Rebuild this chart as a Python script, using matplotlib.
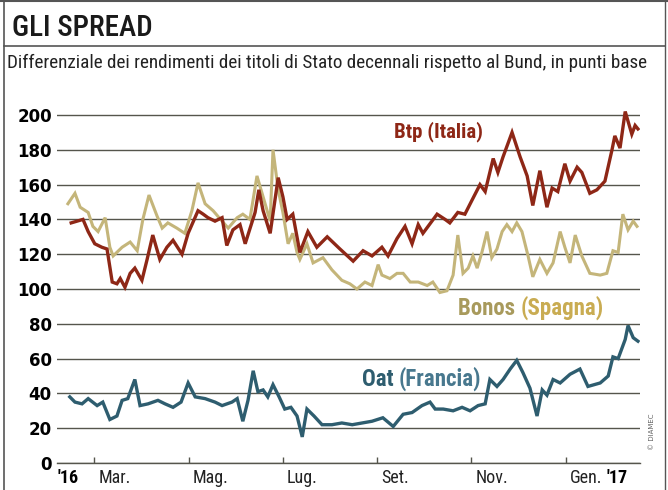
import matplotlib
matplotlib.use("Agg")
import matplotlib.pyplot as plt
from matplotlib import font_manager as fm
from matplotlib.lines import Line2D

# Spread vs Bund (basis points); x in months from start of 2016
btp_x = [1.51, 1.76, 1.87, 2.01, 2.16, 2.27, 2.38, 2.48, 2.55, 2.65,
         2.76, 2.86, 3.01, 3.12, 3.24, 3.39, 3.54, 3.67, 3.86, 3.99,
         4.20, 4.31, 4.41, 4.56, 4.71, 4.81, 4.94, 5.09, 5.20, 5.41,
         5.49, 5.58, 5.73, 5.90, 6.00, 6.09, 6.21, 6.36, 6.53, 6.72,
         6.94, 7.21, 7.49, 7.70, 7.89, 8.10, 8.23, 8.42, 8.59, 8.74,
         8.87, 8.97, 9.27, 9.44, 9.54, 9.71, 9.86, 10.01, 10.18, 10.29,
         10.46, 10.56, 10.67, 10.86, 11.03, 11.18, 11.30, 11.45, 11.60, 11.71,
         11.83, 11.98, 12.09, 12.24, 12.34, 12.51, 12.66, 12.83, 12.98, 13.04,
         13.15, 13.26, 13.40, 13.47, 13.53]
btp = [138, 140, 133, 126, 124, 123, 104, 103, 106, 101,
       109, 112, 105, 117, 131, 117, 124, 128, 120, 132,
       145, 143, 141, 139, 141, 125, 134, 137, 126, 144,
       157, 145, 132, 164, 153, 140, 143, 121, 133, 124,
       130, 123, 116, 122, 119, 124, 119, 129, 136, 126,
       137, 132, 143, 140, 138, 144, 143, 151, 160, 156,
       175, 167, 176, 190, 176, 165, 148, 168, 147, 158,
       156, 172, 162, 170, 167, 155, 157, 162, 180, 188,
       181, 202, 189, 194, 192]

bonos_x = [1.44, 1.59, 1.70, 1.87, 1.97, 2.08, 2.23, 2.33, 2.40, 2.59,
           2.76, 2.91, 3.03, 3.16, 3.33, 3.44, 3.56, 3.75, 3.92, 4.07,
           4.20, 4.35, 4.52, 4.71, 4.84, 5.03, 5.15, 5.30, 5.45, 5.58,
           5.73, 5.79, 5.90, 6.00, 6.11, 6.21, 6.30, 6.36, 6.51, 6.64,
           6.85, 7.04, 7.25, 7.42, 7.57, 7.74, 7.89, 8.02, 8.10, 8.27,
           8.42, 8.55, 8.70, 8.87, 9.06, 9.18, 9.33, 9.48, 9.61, 9.71,
           9.82, 9.93, 10.03, 10.12, 10.22, 10.33, 10.43, 10.54, 10.65, 10.75,
           10.86, 10.96, 11.07, 11.20, 11.30, 11.45, 11.60, 11.73, 11.88, 11.98,
           12.09, 12.20, 12.34, 12.51, 12.73, 12.87, 13.00, 13.11, 13.21, 13.32,
           13.43, 13.51]
bonos = [149, 155, 147, 144, 136, 133, 141, 124, 119, 124,
         127, 122, 140, 154, 142, 135, 138, 135, 132, 145,
         161, 149, 145, 139, 135, 141, 143, 140, 165, 153,
         139, 180, 157, 144, 126, 132, 121, 117, 126, 115,
         118, 111, 105, 103, 100, 104, 102, 114, 108, 106,
         109, 109, 104, 104, 102, 104, 98, 99, 108, 131,
         109, 112, 119, 112, 121, 133, 118, 123, 133, 137,
         133, 138, 133, 119, 107, 117, 109, 115, 133, 124,
         115, 131, 119, 109, 108, 109, 122, 121, 143, 134,
         139, 136]

oat_x = [1.48, 1.59, 1.74, 1.87, 2.06, 2.18, 2.33, 2.48, 2.59, 2.71,
         2.86, 2.97, 3.14, 3.35, 3.50, 3.67, 3.84, 3.99, 4.14, 4.35,
         4.56, 4.71, 4.92, 5.03, 5.15, 5.26, 5.37, 5.47, 5.58, 5.68,
         5.79, 5.92, 6.04, 6.17, 6.30, 6.41, 6.51, 6.66, 6.83, 7.04,
         7.25, 7.47, 7.68, 7.89, 8.12, 8.34, 8.55, 8.74, 8.95, 9.12,
         9.23, 9.40, 9.61, 9.80, 9.97, 10.14, 10.29, 10.39, 10.54, 10.67,
         10.82, 10.96, 11.09, 11.24, 11.39, 11.50, 11.60, 11.73, 11.88, 12.09,
         12.30, 12.47, 12.73, 12.90, 13.00, 13.11, 13.26, 13.32, 13.43, 13.53]
oat = [38, 35, 34, 37, 33, 35, 25, 27, 36, 37,
       48, 33, 34, 36, 34, 32, 35, 46, 38, 37,
       35, 33, 35, 37, 24, 36, 53, 41, 42, 38,
       45, 38, 31, 32, 27, 15, 31, 27, 22, 22,
       23, 22, 23, 24, 26, 21, 28, 29, 33, 35,
       31, 31, 30, 32, 30, 33, 34, 48, 44, 48,
       54, 59, 52, 43, 27, 42, 39, 48, 46, 51,
       54, 44, 46, 50, 61, 60, 71, 79, 72, 70]

month_ticks = [2, 4, 6, 8, 10, 12]
month_labels = ['Mar.', 'Mag.', 'Lug.', 'Set.', 'Nov.', 'Gen.']
y_ticks = list(range(0, 201, 20))


def pick_narrow():
    # look for a condensed / narrow face, else plain DejaVu Sans
    prefs = ['Liberation Sans Narrow', 'Roboto Condensed', 'Open Sans Condensed',
             'Noto Sans', 'DejaVu Sans', 'Roboto', 'Open Sans']
    found = {}
    for f in fm.fontManager.ttflist:
        st = str(f.stretch)
        if ('Narrow' in f.name or 'Condensed' in f.name
                or st in ('condensed', 'semi-condensed', 'extra-condensed')):
            found.setdefault(f.name, st)
    for p in prefs:
        if p in found:
            return p, found[p], True
    if found:
        name = sorted(found)[0]
        return name, found[name], True
    return 'DejaVu Sans', 'normal', False


narrow, narrow_stretch, is_narrow = pick_narrow()
k = 1.0 if is_narrow else 0.85  # shrink plain faces a bit
nf = dict(family=narrow, fontstretch=narrow_stretch)

grid_col = '#55554c'
red = '#8e2716'
khaki = '#c4b57a'
blue = '#2e5d6f'

fig = plt.figure(figsize=(6.68, 4.90), dpi=100)
fig.patch.set_facecolor('white')
ax = fig.add_axes([0.0859, 0.0551, 0.8722, 0.7457])

# Grid and axes
ax.set_xlim(1.217, 13.574)
ax.set_ylim(0, 210)
ax.set_yticks(y_ticks)
ax.set_yticklabels([str(v) for v in y_ticks], fontweight='bold', fontsize=12,
                   family='DejaVu Sans')
ax.tick_params(axis='y', length=0, pad=4)
ax.grid(axis='y', color=grid_col, linewidth=1.0)
ax.set_axisbelow(True)
for s in ['left', 'right', 'top']:
    ax.spines[s].set_visible(False)
ax.spines['bottom'].set_color(grid_col)
ax.spines['bottom'].set_linewidth(1.0)
ax.set_xticks(month_ticks)
ax.set_xticklabels([])
ax.tick_params(axis='x', direction='in', length=4.5, color=grid_col, width=1)

# Month labels (left aligned, just right of each tick)
xs = 13 * k
for pos, lab in zip(month_ticks, month_labels):
    ax.annotate(lab, xy=(pos, 0), xycoords=('data', 'axes fraction'),
                xytext=(3, -4), textcoords='offset points', ha='left', va='top',
                fontsize=xs, color='#222222', **nf)
ax.annotate("'16", xy=(0, 0), xycoords='axes fraction', xytext=(0, -4),
            textcoords='offset points', ha='left', va='top', fontsize=xs,
            fontweight='bold', **nf)
gen = ax.annotate('Gen. ', xy=(12, 0), xycoords=('data', 'axes fraction'),
                  xytext=(3, -4), textcoords='offset points', ha='left', va='top',
                  fontsize=xs, color='#222222', alpha=0, **nf)
ax.annotate("'17", xy=(1, 0), xycoords=gen, ha='left', va='bottom',
            fontsize=xs, fontweight='bold', **nf)

# Lines
ax.plot(bonos_x, bonos, color=khaki, lw=2.2, solid_joinstyle='miter')
ax.plot(btp_x, btp, color=red, lw=2.4, solid_joinstyle='miter')
ax.plot(oat_x, oat, color=blue, lw=2.4, solid_joinstyle='miter')

# Series labels (two-tone where the reference uses two shades)
ax.text(8.36, 190.5, 'Btp (Italia)', color=red, fontsize=15 * k,
        fontweight='bold', ha='left', va='center', **nf)
ls = 16.5 * k
b1 = ax.text(9.71, 89, 'Bonos ', color='#a89a5c', fontsize=ls, fontweight='bold',
             ha='left', va='center', **nf)
ax.annotate('(Spagna)', xy=(1, 0), xycoords=b1, ha='left', va='bottom',
            color='#c9ac52', fontsize=ls, fontweight='bold', **nf)
o1 = ax.text(7.68, 48, 'Oat ', color=blue, fontsize=ls, fontweight='bold',
             ha='left', va='center', **nf)
ax.annotate('(Francia)', xy=(1, 0), xycoords=o1, ha='left', va='bottom',
            color='#48788e', fontsize=ls, fontweight='bold', **nf)

# Header and frame
fig.text(12 / 668, 1 - 28 / 490, 'GLI SPREAD', fontsize=21 * k, va='center',
         ha='left', color='#1a1a1a', fontweight='medium', **nf)
fig.text(7 / 668, 1 - 63 / 490,
         'Differenziale dei rendimenti dei titoli di Stato decennali rispetto al Bund, in punti base',
         fontsize=(13.8 if is_narrow else 10.2), va='center', ha='left',
         color='#222222', **nf)
fig.text(652 / 668, 1 - 432 / 490, '© DIAMEC', rotation=90, fontsize=5,
         color='#666666', va='center', ha='center')

frame = '#555555'
fig.add_artist(Line2D([4 / 668, 4 / 668], [0, 1], color=frame, lw=1.2))
fig.add_artist(Line2D([665 / 668, 665 / 668], [0, 1], color=frame, lw=1.0))
fig.add_artist(Line2D([0, 1], [1 - 1.5 / 490, 1 - 1.5 / 490], color=frame, lw=1.5))
fig.add_artist(Line2D([4 / 668, 665 / 668], [1 - 46 / 490, 1 - 46 / 490], color=frame, lw=1.2))

fig.savefig('out.png', dpi=100, facecolor='white')
